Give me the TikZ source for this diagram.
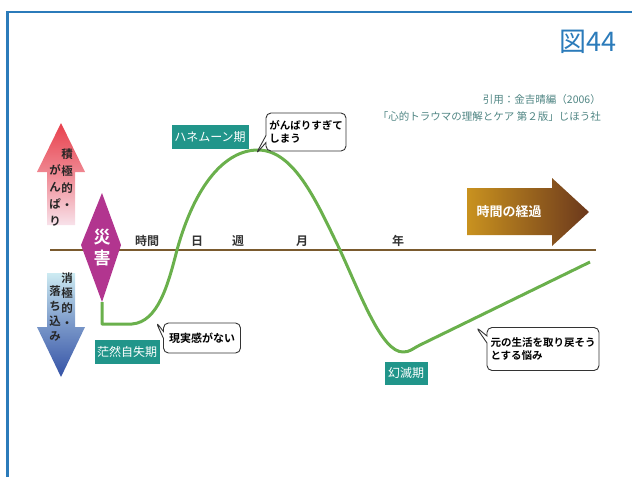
\documentclass[tikz,border=0pt]{standalone}
\usepackage{fontspec}
\setmainfont{Noto Sans CJK JP}[BoldFont={Noto Sans CJK JP Bold}]
\usetikzlibrary{shapes.callouts}
\definecolor{frameblue}{HTML}{2B7BBA}
\definecolor{citecol}{HTML}{4F8583}
\definecolor{axiscol}{HTML}{7A5A2E}
\definecolor{curvecol}{HTML}{6AB04C}
\definecolor{tealbox}{HTML}{21958A}
\definecolor{magentac}{HTML}{B2358F}
\definecolor{redtop}{HTML}{E8404C}
\definecolor{redbot}{HTML}{F8E2EA}
\definecolor{bluetop}{HTML}{CDEBF2}
\definecolor{bluebot}{HTML}{3452A6}
\definecolor{goldc}{HTML}{C9921F}
\definecolor{brownc}{HTML}{6B381C}
\tikzset{
  phasebox/.style={fill=tealbox, text=white, font=\fontsize{12}{12}\selectfont, inner sep=2pt, minimum height=24pt},
  callbox/.style={rectangle callout, draw=black!80, line width=0.9pt, fill=white, rounded corners=5pt,
     align=left, inner sep=3pt, callout pointer width=7pt, font=\bfseries\fontsize{10.5}{12.5}\selectfont},
  ticklabel/.style={font=\bfseries\fontsize{12}{12}\selectfont, text=black!80},
  coltext/.style={align=center, inner sep=0pt, font=\bfseries\fontsize{11.5}{17}\selectfont, text=black!85},
}
\begin{document}
\begin{tikzpicture}[x=1pt,y=-1pt]
\useasboundingbox (0,0) rectangle (632,477);
% frame
\draw[frameblue, line width=2.5pt] (7.5,477) -- (7.5,12) -- (632,12);
\node[frameblue, anchor=east, inner sep=0pt, font=\fontsize{27}{27}\selectfont] (fig) at (617,42) {図44};
% citation
\node[citecol, anchor=east, inner sep=0pt, font=\fontsize{10.5}{10.5}\selectfont] (cite1) at (601,100) {引用：金吉晴編（2006）};
\node[citecol, anchor=east, inner sep=0pt, font=\fontsize{10.5}{10.5}\selectfont] (cite2) at (601,117) {「心的トラウマの理解とケア 第２版」じほう社};
% axis
\coordinate (ax1) at (50,250);
\coordinate (ax2) at (596,250);
\draw[axiscol, line width=2pt] (ax1) -- (ax2);
% axis labels
\node[ticklabel] (t1) at (147,241) {時間};
\node[ticklabel] (t2) at (197,241) {日};
\node[ticklabel] (t3) at (238,241) {週};
\node[ticklabel] (t4) at (302,241) {月};
\node[ticklabel] (t5) at (398,241) {年};
% red arrow
\shade[top color=redtop, bottom color=redbot, middle color=redtop!55!redbot]
  (47,225) -- (47,172) -- (37,172) -- (61,123) -- (85,172) -- (75,172) -- (75,225) -- cycle;
\node[coltext] (r1) at (67,179) {積\\極\\的\\・};
\node[coltext] (r2) at (55,195) {が\\ん\\ぱ\\り};
% blue arrow
\shade[top color=bluetop, bottom color=bluebot, middle color=bluetop!45!bluebot]
  (47,273) -- (75,273) -- (75,327) -- (85,327) -- (61,377) -- (37,327) -- (47,327) -- cycle;
\node[coltext, font=\bfseries\fontsize{11.5}{15}\selectfont] (b1) at (67,300) {消\\極\\的\\・};
\node[coltext, font=\bfseries\fontsize{11.5}{15}\selectfont] (b2) at (55,314) {落\\ち\\込\\み};
% disaster diamond
\fill[magentac] (102,193) -- (121,245) -- (102,302) -- (81,245) -- cycle;
\node[coltext, text=white, font=\bfseries\fontsize{17}{21}\selectfont] (dis) at (102,248) {災\\害};
% time arrow
\shade[left color=goldc, right color=brownc]
  (467,188) -- (552,188) -- (552,178) -- (589,212) -- (552,246) -- (552,235) -- (467,235) -- cycle;
\node[text=white, font=\bfseries\fontsize{13}{13}\selectfont] (time) at (509,212) {時間の経過};
% curve
\coordinate (c0) at (102,302);
\coordinate (c1) at (102,324);
\coordinate (c2) at (177,250);
\coordinate (c3) at (258,150);
\coordinate (c4) at (340,250);
\coordinate (c5) at (403,352);
\coordinate (c6) at (590,262);
\draw[curvecol, line width=3pt, line join=round]
  (c0) -- (c1) -- (132,324) .. controls (158,322) and (168,285) .. (c2)
  .. controls (195,185) and (225,150) .. (c3)
  .. controls (295,150) and (318,205) .. (c4)
  .. controls (362,298) and (382,352) .. (c5)
  .. controls (410,352) and (412,349) .. (420,345) -- (c6);
% phase labels
\node[phasebox, minimum width=77pt] (honey) at (210,137) {ハネムーン期};
\node[phasebox, minimum width=65pt] (stun) at (127,352) {茫然自失期};
\node[phasebox, minimum width=43pt, minimum height=23pt] (disil) at (406,373) {幻滅期};
% callouts
\coordinate (p1) at (256,154);
\coordinate (p2) at (156,322);
\coordinate (p3) at (476,327);
\node[callbox, minimum width=80pt, minimum height=38pt, callout absolute pointer={(p1)}] (k1) at (306,132) {がんばりすぎて\\しまう};
\node[callbox, font=\bfseries\fontsize{11}{11}\selectfont, minimum width=77pt, minimum height=30pt, callout absolute pointer={(p2)}] (k2) at (202,338) {現実感がない};
\node[callbox, minimum width=112pt, minimum height=43pt, callout absolute pointer={(p3)}] (k3) at (543,349) {元の生活を取り戻そう\\とする悩み};
\end{tikzpicture}
\end{document}
